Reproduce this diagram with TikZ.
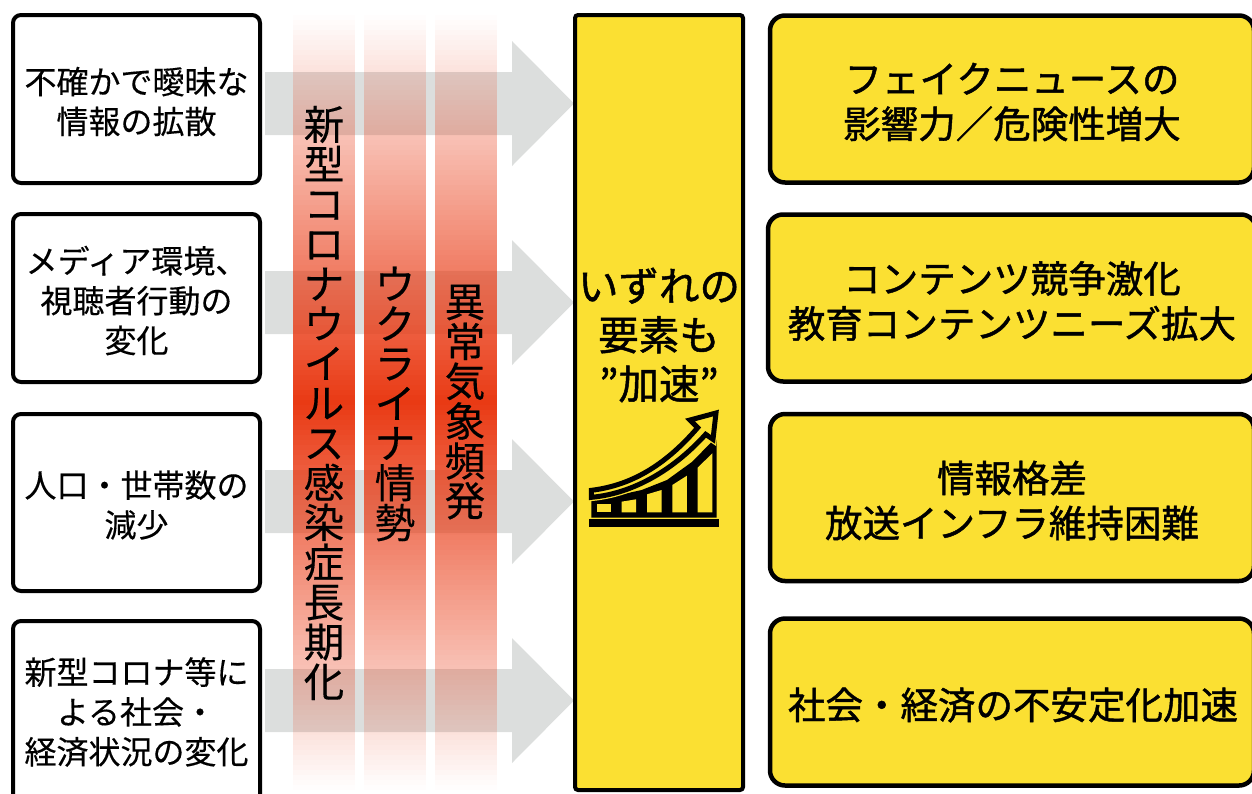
\documentclass[tikz,border=0pt]{standalone}
\usepackage{fontspec}
\setmainfont[FakeBold=0.3]{Noto Sans CJK JP}
\newfontfamily\heavyfont[FakeBold=1.2]{Noto Sans CJK JP}

\newcommand{\risingarrow}{(19,256) .. controls (150,240) and (250,170) .. (338,68) -- (315,45) -- (393,24) -- (384,103) -- (362,88) .. controls (270,190) and (150,265) .. (19,277) -- cycle}

\begin{document}
\begin{tikzpicture}
    [
      x=1pt,
      y=-1pt,
      % Styles
      left box/.style={draw=black, line width=4pt, rounded corners=8pt, fill=white, minimum width=247pt},
      left text/.style={align=center, inner sep=0pt, yshift=-2.5pt, font=\fontsize{32}{39.8}\selectfont},
      result box/.style={draw=black, line width=4.5pt, rounded corners=15pt, fill=boxcolor, minimum width=484pt, minimum height=167pt},
      result text/.style={align=center, inner sep=0pt, yshift=-3pt, font=\heavyfont\fontsize{37.5}{45}\selectfont},
      side label/.style={align=center, inner sep=0pt, font=\fontsize{40.5}{39.8}\selectfont}
    ]

    % Colors
    \definecolor{boxcolor}{HTML}{FBE032}
    \definecolor{barcolor}{HTML}{E93A14}
    \definecolor{arrowcolor}{HTML}{DCDEDD}

    \path [use as bounding box] (0,0) rectangle (1252,793);

    % grey arrows
    \foreach \name/\y in {a/103.5, b/302.5, c/501.5, d/700.5}
    {
      \coordinate (start\name) at (265,\y);
      \fill [arrowcolor] (start\name) ++(0,-31.5) -- ++(247,0) -- ++(0,-31) -- ++(62,62.5) -- ++(-62,62.5) -- ++(0,-31) -- ++(-247,0) -- cycle;
    }

    % red bars, in bands
    \foreach \x in {293,364,435}
    {
      \foreach \i in {0,...,154}
      {
        \pgfmathsetmacro{\level}{1-abs(\i*5+2.5-387.5)/387.5}
        \fill [barcolor, opacity=\level] (\x,15+\i*5) rectangle +(62,5);
      }
    }

    \node [side label] (virus) at (324,403) {新\\型\\コ\\ロ\\ナ\\ウ\\イ\\ル\\ス\\感\\染\\症\\長\\期\\化};
    \node [side label] (ukraine) at (395,404) {ウ\\ク\\ラ\\イ\\ナ\\情\\勢};
    \node [side label] (weather) at (465,402) {異\\常\\気\\象\\頻\\発};

    % left column
    \node [left box, minimum height=168pt] (causea) at (136.5,99) {};
    \node [left box, minimum height=168pt] (causeb) at (136.5,298) {};
    \node [left box, minimum height=177pt] (causec) at (136.5,502.5) {};
    \node [left box, minimum height=182pt] (caused) at (136.5,712) {};
    \node [left text] (causeatext) at (causea) {不確かで曖昧な\\情報の拡散};
    \node [left text] (causebtext) at (causeb) {メディア環境、\\視聴者行動の\\変化};
    \node [left text] (causectext) at (causec) {人口・世帯数の\\減少};
    \node [left text, yshift=2.5pt] (causedtext) at (caused) {新型コロナ等に\\よる社会・\\経済状況の変化};

    % middle column
    \node [draw=black, line width=4pt, rounded corners=3pt, fill=boxcolor, minimum width=168pt, minimum height=775pt] (speedup) at (659,402.5) {};
    \node [align=center, inner sep=0pt, font=\heavyfont\fontsize{40.5}{49}\selectfont] (speeduptext) at (659,335) {いずれの\\要素も\\”加速”};

    % rising chart
    \begin{scope}[shift={(585,405)}, x=.3333pt, y=-.3333pt]
      \fill [black] (19,338) -- (19,283) -- (93,272) -- (170,255) -- (246,225) -- (322,170) -- (395,95) -- (395,338) -- cycle;
      \foreach \barl/\barr/\topl/\topr in {35/78/298/298, 110/153/290/283, 186/230/268/255, 262/306/240/212, 338/382/188/145}
      {
        \fill [boxcolor] (\barl,322) -- (\barl,\topl) -- (\barr,\topr) -- (\barr,322) -- cycle;
      }
      \draw [line width=7.5pt, boxcolor] \risingarrow;
      \draw [line width=5pt, fill=boxcolor, miter limit=10] \risingarrow;
      \fill [black] (13,343) rectangle (402,365);
    \end{scope}

    % right column
    \node [result box] (resulta) at (1012,99) {};
    \node [result box, minimum width=488pt] (resultb) at (1012,298) {};
    \node [result box] (resultc) at (1012,497.5) {};
    \node [result box] (resultd) at (1012,702) {};
    \node [result text] (resultatext) at (resulta) {フェイクニュースの\\影響力／危険性増大};
    \node [result text] (resultbtext) at (resultb) {コンテンツ競争激化\\教育コンテンツニーズ拡大};
    \node [result text] (resultctext) at (resultc) {情報格差\\放送インフラ維持困難};
    \node [result text, xshift=1pt] (resultdtext) at (resultd) {社会・経済の不安定化加速};
\end{tikzpicture}
\end{document}
